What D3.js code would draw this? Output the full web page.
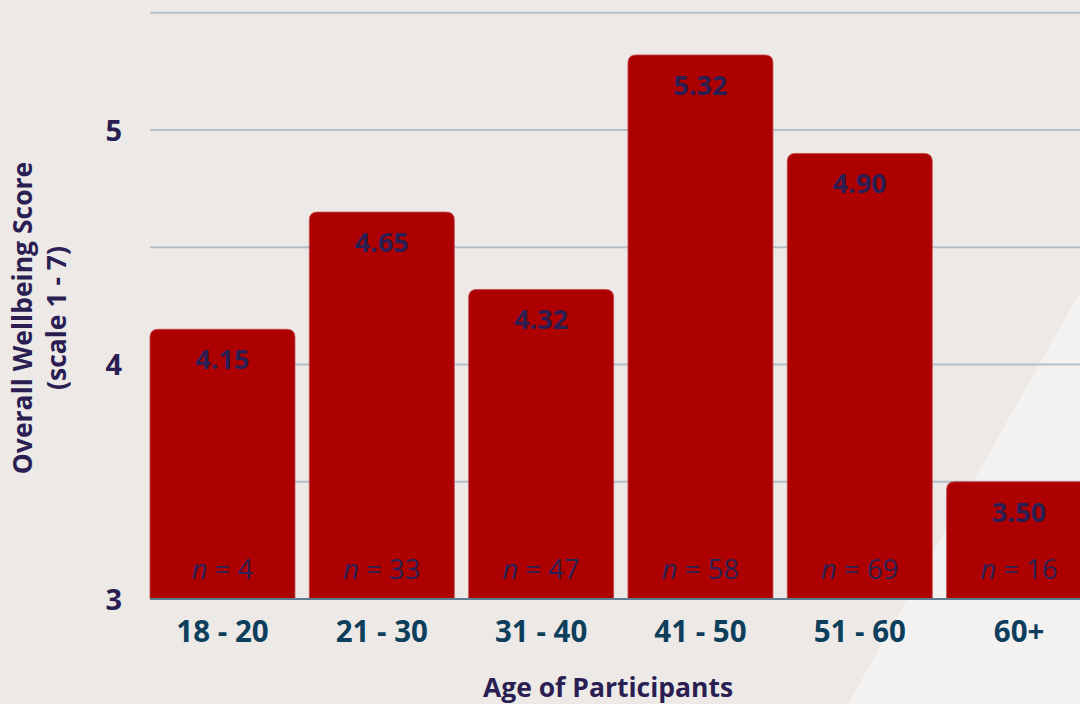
<!DOCTYPE html>
<html>
<head>
<meta charset="utf-8">
<script src="https://cdn.jsdelivr.net/npm/d3@7"></script>
<style>
  html, body { margin: 0; padding: 0; background: #ece9e6; overflow: hidden; }
  svg { display: block; }
  text { font-family: "Open Sans", "Noto Sans", sans-serif; }
</style>
</head>
<body>
<svg id="chart" width="1080" height="704"></svg>
<script>
// Wellbeing score by age group
const ageGroups = ["18 - 20", "21 - 30", "31 - 40", "41 - 50", "51 - 60", "60+"];
const scores = [4.15, 4.65, 4.32, 5.32, 4.90, 3.50];
const sampleSizes = [4, 33, 47, 58, 69, 16];
const yTickValues = [3, 4, 5];
const yGridValues = [3.5, 4, 4.5, 5, 5.5];

const W = 1080, H = 704;
const svg = d3.select("#chart");

// background with a lighter diagonal panel in the lower right
svg.append("rect").attr("width", W).attr("height", H).attr("fill", "#ece9e6");
svg.append("path")
  .attr("d", "M1080,292 L1080,704 L848,704 Z")
  .attr("fill", "#f3f2f0");

const x = d3.scaleBand()
  .domain(ageGroups)
  .range([150, 1091.6])
  .paddingInner(0.09)
  .paddingOuter(0);

const y = d3.scaleLinear()
  .domain([3, 5.5])
  .range([599, 12.75]);

// horizontal gridlines
svg.append("g")
  .selectAll("line")
  .data(yGridValues)
  .join("line")
  .attr("x1", 150).attr("x2", W)
  .attr("y1", d => y(d)).attr("y2", d => y(d))
  .attr("stroke", "#b4bfc7")
  .attr("stroke-width", 2);

// y axis tick labels
const yAxis = d3.axisLeft(y).tickValues(yTickValues).tickSize(0).tickPadding(0).tickFormat(d3.format("d"));
const yg = svg.append("g").attr("transform", "translate(122,0)").call(yAxis);
yg.select(".domain").remove();
yg.selectAll("text")
  .attr("fill", "#2a1e53")
  .attr("font-size", 29)
  .attr("font-weight", 700)
  .attr("dy", "0.36em");

// bars with rounded top corners
const r = 8;
function barPath(d, i) {
  const x0 = x(ageGroups[i]), w = x.bandwidth();
  const top = y(d), bot = y(3);
  return `M${x0},${bot} L${x0},${top + r} Q${x0},${top} ${x0 + r},${top} ` +
         `L${x0 + w - r},${top} Q${x0 + w},${top} ${x0 + w},${top + r} L${x0 + w},${bot} Z`;
}
svg.append("g")
  .selectAll("path")
  .data(scores)
  .join("path")
  .attr("d", barPath)
  .attr("fill", "#ad0000")
  .attr("stroke", "#c4484b")
  .attr("stroke-width", 0.8);

// baseline
svg.append("line")
  .attr("x1", 150).attr("x2", W)
  .attr("y1", y(3)).attr("y2", y(3))
  .attr("stroke", "#5e7c92")
  .attr("stroke-width", 2);

// value labels inside bar tops
svg.append("g")
  .selectAll("text")
  .data(scores)
  .join("text")
  .attr("x", (d, i) => x(ageGroups[i]) + x.bandwidth() / 2)
  .attr("y", d => y(d) + 40)
  .attr("text-anchor", "middle")
  .attr("font-size", 27)
  .attr("font-weight", 700)
  .attr("fill", "#2a1e53")
  .text(d => d.toFixed(2));

// sample size labels near the base of each bar
const nLabels = svg.append("g")
  .selectAll("text")
  .data(sampleSizes)
  .join("text")
  .attr("x", (d, i) => x(ageGroups[i]) + x.bandwidth() / 2)
  .attr("y", 579)
  .attr("text-anchor", "middle")
  .attr("font-size", 27.5)
  .attr("font-weight", 500)
  .attr("fill", "#2b2155");
nLabels.append("tspan").attr("font-style", "italic").text("n");
nLabels.append("tspan").text(d => " = " + d);

// x axis category labels
const xAxis = d3.axisBottom(x).tickSize(0).tickPadding(0);
const xg = svg.append("g").attr("transform", "translate(0,642)").call(xAxis);
xg.select(".domain").remove();
xg.selectAll("text")
  .attr("fill", "#0d3e5c")
  .attr("font-size", 29.5)
  .attr("font-weight", 700)
  .attr("dy", 0)
  .attr("y", 0);

// axis titles
svg.append("text")
  .attr("x", 608).attr("y", 697)
  .attr("text-anchor", "middle")
  .attr("font-size", 26.5)
  .attr("font-weight", 700)
  .attr("fill", "#2a1e53")
  .text("Age of Participants");

const yTitle = svg.append("text")
  .attr("transform", "translate(0,318) rotate(-90)")
  .attr("text-anchor", "middle")
  .attr("font-size", 26.5)
  .attr("font-weight", 700)
  .attr("fill", "#2a1e53");
yTitle.append("tspan").attr("x", 0).attr("y", 32).text("Overall Wellbeing Score");
yTitle.append("tspan").attr("x", 0).attr("y", 66).text("(scale 1 - 7)");
</script>
</body>
</html>
